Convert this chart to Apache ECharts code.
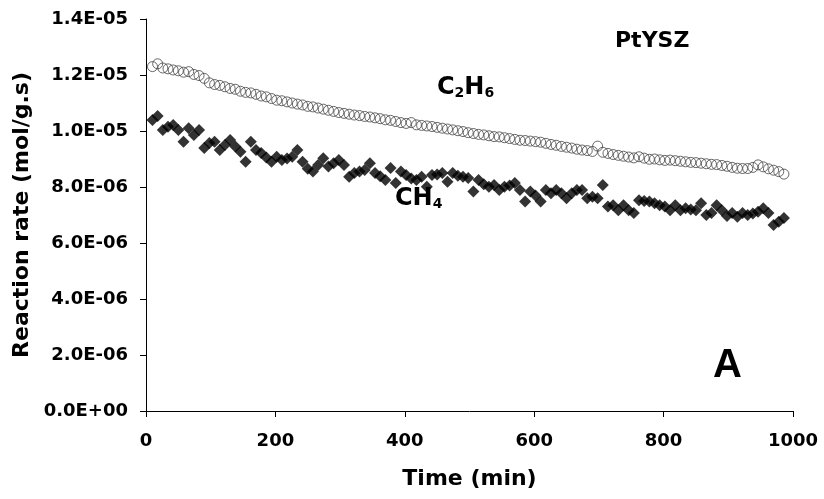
<!DOCTYPE html>
<html>
<head>
<meta charset="utf-8">
<script src="https://cdn.jsdelivr.net/npm/echarts@6/dist/echarts.min.js"></script>
<style>
html,body{margin:0;padding:0;background:#fff;}
#chart{width:824px;height:499px;}
</style>
</head>
<body>
<div id="chart"></div>
<script>
// Time (min)
var times = [
10,18,26,34,42,50,58,66,74,82,
90,98,106,114,122,130,138,146,154,162,
170,178,186,194,202,210,218,226,234,242,
250,258,266,274,282,290,298,306,314,322,
330,338,346,354,362,370,378,386,394,402,
410,418,426,434,442,450,458,466,474,482,
490,498,506,514,522,530,538,546,554,562,
570,578,586,594,602,610,618,626,634,642,
650,658,666,674,682,690,698,706,714,722,
730,738,746,754,762,770,778,786,794,802,
810,818,826,834,842,850,858,866,874,882,
890,898,906,914,922,930,938,946,954,962,
970,978,986
];
// Reaction rate, in units of 1E-06 mol/g.s
var c2h6 = [
12.30,12.40,12.25,12.22,12.18,12.15,12.10,12.12,12.02,11.98,
11.88,11.72,11.66,11.63,11.58,11.52,11.49,11.42,11.38,11.36,
11.31,11.25,11.22,11.16,11.10,11.08,11.04,11.00,10.96,10.93,
10.88,10.86,10.82,10.78,10.74,10.70,10.66,10.63,10.60,10.57,
10.55,10.52,10.50,10.47,10.44,10.40,10.38,10.34,10.30,10.27,
10.30,10.22,10.20,10.18,10.16,10.13,10.10,10.07,10.04,10.01,
9.98,9.94,9.91,9.88,9.86,9.83,9.80,9.79,9.76,9.73,
9.70,9.67,9.66,9.64,9.62,9.60,9.56,9.52,9.49,9.45,
9.42,9.39,9.35,9.32,9.30,9.27,9.46,9.24,9.20,9.16,
9.13,9.10,9.07,9.04,9.08,9.03,8.99,9.00,8.97,8.95,
8.96,8.94,8.92,8.90,8.88,8.87,8.85,8.83,8.81,8.80,
8.77,8.74,8.70,8.67,8.66,8.66,8.70,8.79,8.72,8.65,
8.60,8.55,8.46
];
var ch4 = [
10.39,10.54,10.04,10.15,10.21,10.04,9.62,10.10,9.86,10.04,
9.39,9.57,9.62,9.32,9.50,9.68,9.45,9.26,8.90,9.62,
9.32,9.21,9.05,8.90,9.08,8.96,9.02,9.08,9.32,8.90,
8.65,8.55,8.79,9.03,8.73,8.85,8.96,8.79,8.37,8.50,
8.55,8.61,8.85,8.50,8.38,8.25,8.68,8.14,8.55,8.43,
8.30,8.25,8.37,8.01,8.43,8.45,8.50,8.19,8.50,8.40,
8.37,8.32,7.84,8.25,8.10,8.01,8.07,7.89,8.01,8.05,
8.14,7.89,7.48,7.84,7.70,7.48,7.89,7.78,7.89,7.78,
7.60,7.78,7.89,7.89,7.60,7.65,7.60,8.07,7.30,7.35,
7.17,7.35,7.17,7.07,7.53,7.50,7.48,7.42,7.35,7.30,
7.17,7.35,7.17,7.24,7.20,7.17,7.42,7.00,7.07,7.35,
7.17,6.96,7.07,6.94,7.07,7.00,7.05,7.12,7.24,7.07,
6.64,6.76,6.89
];
var yTickValues = [0,2,4,6,8,10,12,14];
var yTickLabels = ['0.0E+00','2.0E-06','4.0E-06','6.0E-06','8.0E-06','1.0E-05','1.2E-05','1.4E-05'];
var xTickLabels = ['0','200','400','600','800','1000'];

function pairs(xs, ys){ var o=[]; for(var i=0;i<xs.length;i++){o.push([xs[i],ys[i]]);} return o; }

var FONT = '"DejaVu Sans", sans-serif';
var FONT_A = '"Liberation Sans", Arial, sans-serif';
var chart = echarts.init(document.getElementById('chart'), null, {renderer:'canvas'});
var subRich = {
  a:{fontFamily:FONT,fontWeight:'bold',fontSize:24,lineHeight:28,verticalAlign:'bottom',color:'#000'},
  s:{fontFamily:FONT,fontWeight:'bold',fontSize:14,lineHeight:14,verticalAlign:'bottom',color:'#000'}
};
var option = {
  animation:false,
  backgroundColor:'#ffffff',
  grid:{left:146,right:31,top:19,bottom:88,containLabel:false},
  xAxis:{
    type:'value',min:0,max:1000,interval:200,
    name:'Time (min)',nameLocation:'middle',nameGap:57,
    nameTextStyle:{fontFamily:FONT,fontWeight:'bold',fontSize:22,color:'#000'},
    axisLine:{show:true,lineStyle:{color:'#000',width:1}},
    axisTick:{show:true,inside:false,length:6,lineStyle:{color:'#000'}},
    splitLine:{show:false},
    axisLabel:{margin:21,fontFamily:FONT,fontWeight:'bold',fontSize:18,color:'#000',
      formatter:function(v){var i=Math.round(v/200);return xTickLabels[i]!==undefined?xTickLabels[i]:'';}}
  },
  yAxis:{
    type:'value',min:0,max:14,interval:2,
    name:'Reaction rate (mol/g.s)',nameLocation:'middle',nameGap:110,nameRotate:90,
    nameTextStyle:{fontFamily:FONT,fontWeight:'bold',fontSize:22,color:'#000'},
    axisLine:{show:true,lineStyle:{color:'#000',width:1}},
    axisTick:{show:true,inside:false,length:6,lineStyle:{color:'#000'}},
    splitLine:{show:false},
    axisLabel:{margin:18,fontFamily:FONT,fontWeight:'bold',fontSize:18,color:'#000',
      formatter:function(v){var i=yTickValues.indexOf(Math.round(v));return i>=0?yTickLabels[i]:'';}}
  },
  series:[
    {name:'C2H6',type:'scatter',data:pairs(times,c2h6),symbol:'circle',symbolSize:10,
     itemStyle:{color:'rgba(0,0,0,0)',borderColor:'#444',borderWidth:1},z:2},
    {name:'CH4',type:'scatter',data:pairs(times,ch4),symbol:'diamond',symbolSize:[12,12],
     itemStyle:{color:'#000'},z:3}
  ],
  graphic:[
    {type:'text',left:615,top:30,style:{text:'PtYSZ',fontFamily:FONT,fontWeight:'bold',fontSize:22,fill:'#000'}},
    {type:'text',left:437,top:76,style:{text:'{a|C}{s|2}{a|H}{s|6}',rich:subRich}},
    {type:'text',left:395,top:187,style:{text:'{a|CH}{s|4}',rich:subRich}},
    {type:'text',left:713,top:346,style:{text:'A',fontFamily:FONT_A,fontWeight:'bold',fontSize:40,fill:'#000'}}
  ]
};
chart.setOption(option);
</script>
</body>
</html>
